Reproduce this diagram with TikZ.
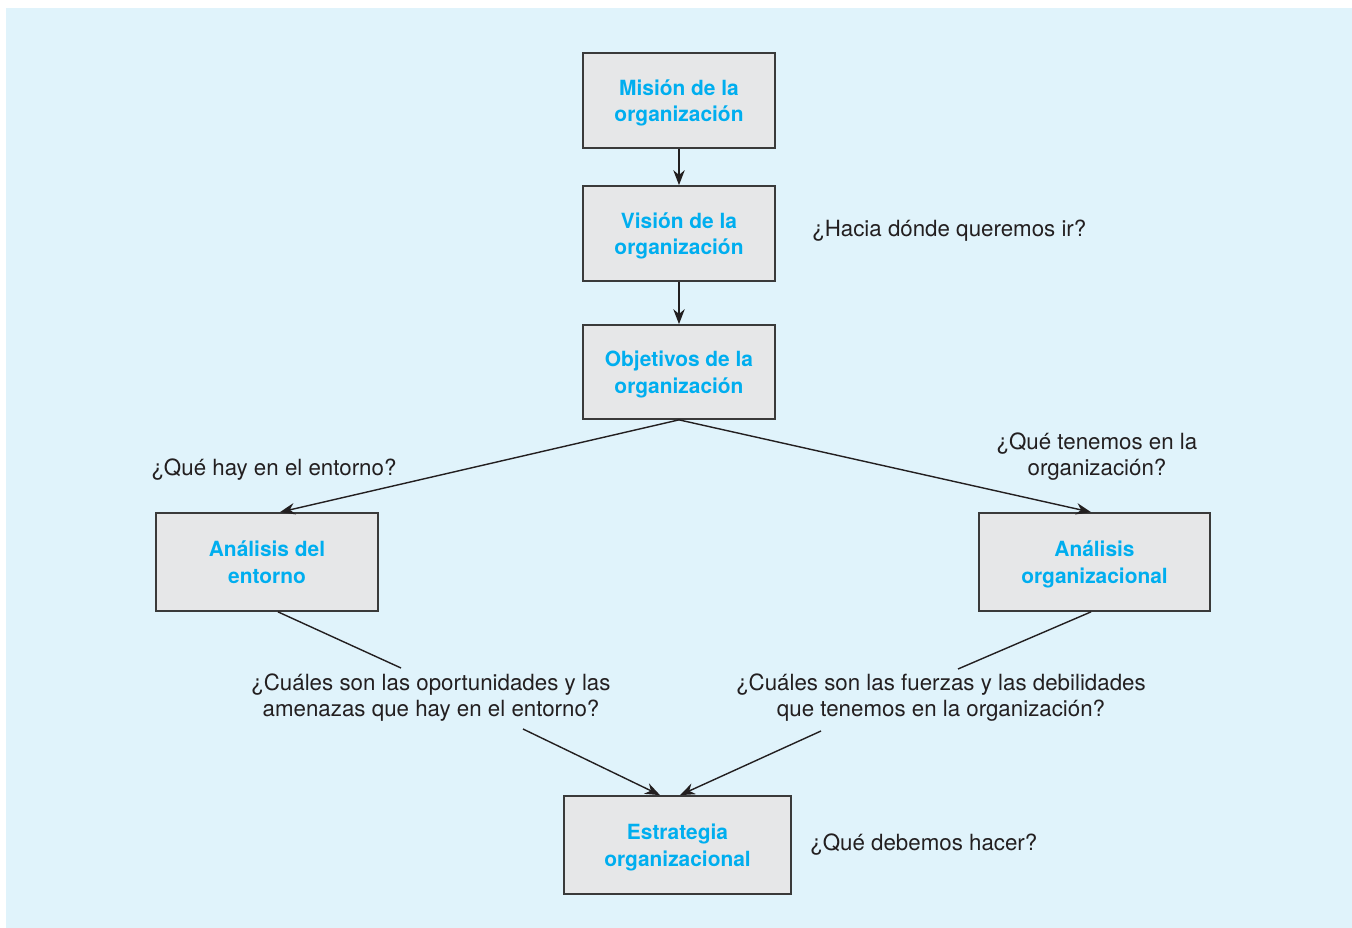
\documentclass[tikz,border=0pt]{standalone}
\usepackage{fontspec}
\setmainfont{TeX Gyre Heros}
\usetikzlibrary{arrows.meta}
\definecolor{fondo}{HTML}{E0F3FB}
\definecolor{gris}{HTML}{E6E7E8}
\definecolor{cian}{HTML}{00AEEF}
\definecolor{borde}{HTML}{3A3A3A}
\definecolor{texto}{HTML}{231F20}

\begin{document}
\begin{tikzpicture}[x=0.02cm, y=-0.02cm, >={Stealth[length=0.3cm,width=0.23cm]},
    bloque/.style={draw=borde, fill=gris, line width=1pt, text=cian, align=center,
        inner sep=0pt, text depth=-0.8pt, font=\bfseries\fontsize{11.9}{15.2}\selectfont},
    pregunta/.style={text=texto, align=center, inner sep=0pt,
        font=\fontsize{12.7}{14.9}\selectfont},
    flecha/.style={->, draw=texto, line width=0.8pt},
    linea/.style={draw=texto, line width=0.8pt}]
    % fondo
    \useasboundingbox (0,0) rectangle (1352,928);
    \fill[fondo] (6,8) rectangle (1352,928);

    % cajas
    \node[bloque, minimum width=3.84cm, minimum height=1.9cm] (mision) at (679,100.5) {Misión de la\\organización};
    \node[bloque, minimum width=3.84cm, minimum height=1.9cm] (vision) at (679,233.5) {Visión de la\\organización};
    \node[bloque, minimum width=3.84cm, minimum height=1.88cm] (objetivos) at (679,372) {Objetivos de la\\organización};
    \node[bloque, minimum width=4.44cm, minimum height=1.96cm] (entorno) at (267,562) {Análisis del\\entorno};
    \node[bloque, minimum width=4.62cm, minimum height=1.96cm] (organizacional) at (1094.5,562) {Análisis\\organizacional};
    \node[bloque, minimum width=4.54cm, minimum height=1.96cm] (estrategia) at (677.5,845) {Estrategia\\organizacional};

    % preguntas
    \node[pregunta, anchor=west] (hacia) at (812,231) {¿Hacia dónde queremos ir?};
    \node[pregunta] (hay) at (274,470) {¿Qué hay en el entorno?};
    \node[pregunta] (tenemos) at (1097,457) {¿Qué tenemos en la\\organización?};
    \node[pregunta] (oportunidades) at (431,698) {¿Cuáles son las oportunidades y las\\amenazas que hay en el entorno?};
    \node[pregunta] (fuerzas) at (941,698) {¿Cuáles son las fuerzas y las debilidades\\que tenemos en la organización?};
    \node[pregunta, anchor=west] (hacer) at (810,845) {¿Qué debemos hacer?};

    % extremos libres de las lineas
    \coordinate (opA) at (401,668);
    \coordinate (opB) at (523,729);
    \coordinate (fuA) at (958,669);
    \coordinate (fuB) at (821,731);

    % conectores
    \draw[flecha] (mision) -- (vision);
    \draw[flecha] (vision) -- (objetivos);
    \draw[flecha] (objetivos.south) -- ([xshift=0.26cm]entorno.north);
    \draw[flecha] (objetivos.south) -- ([xshift=-0.07cm]organizacional.north);
    \draw[linea] ([xshift=0.22cm]entorno.south) -- (opA);
    \draw[flecha] (opB) -- ([xshift=-0.35cm]estrategia.north);
    \draw[linea] ([xshift=-0.07cm]organizacional.south) -- (fuA);
    \draw[flecha] (fuB) -- ([xshift=0.05cm]estrategia.north);
\end{tikzpicture}
\end{document}
